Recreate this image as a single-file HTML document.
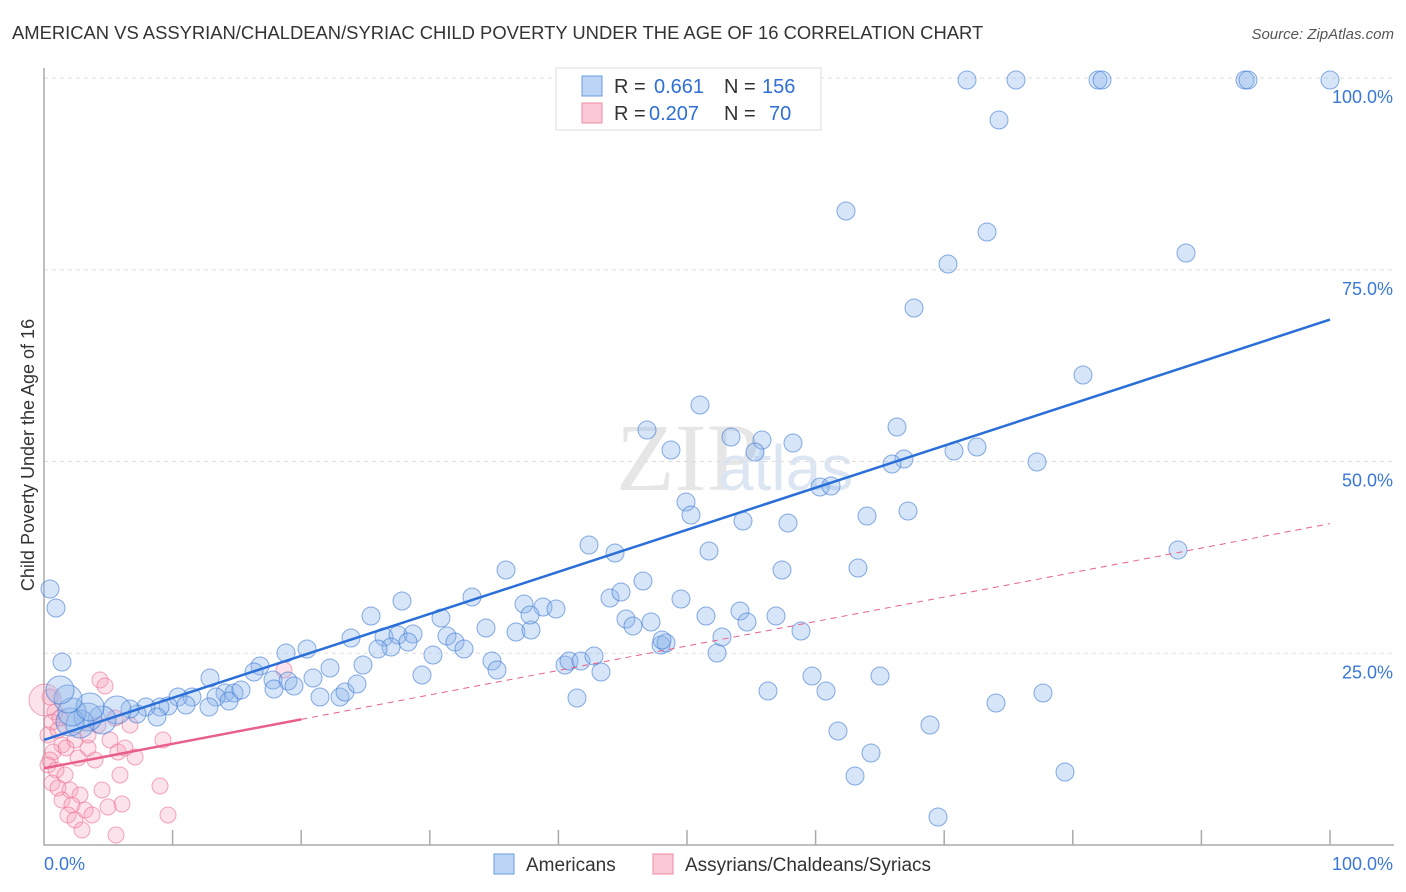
<!DOCTYPE html>
<html><head><meta charset="utf-8"><style>
body{margin:0;background:#fff;font-family:"Liberation Sans",sans-serif;}
#c{position:absolute;left:0;top:0;width:1406px;height:892px;}
</style></head><body>
<svg id="c" width="1406" height="892">
<text x="12" y="39" font-size="18.4" fill="#333">AMERICAN VS ASSYRIAN/CHALDEAN/SYRIAC CHILD POVERTY UNDER THE AGE OF 16 CORRELATION CHART</text>
<text x="1394" y="39" font-size="15" fill="#555" font-style="italic" text-anchor="end">Source: ZipAtlas.com</text>
<text x="760" y="490" font-size="96" fill="#e6e6e6" text-anchor="end" font-family="Liberation Serif,serif">ZIP</text>
<text x="718" y="490" font-size="64" fill="#dce6f3">atlas</text>
<g id="grid"></g><g id="pink"></g><g id="blue"></g><g id="lines"></g>
<text transform="translate(34,455) rotate(-90)" font-size="18" fill="#333" text-anchor="middle">Child Poverty Under the Age of 16</text>
<g>
<rect x="556" y="68" width="265" height="62" fill="#fff" stroke="#ddd"/>
<rect x="582" y="76" width="20" height="20" fill="#bcd4f5" stroke="#6a9ee0"/>
<rect x="582" y="103" width="20" height="20" fill="#fbc8d6" stroke="#ef8aa6"/>
<text x="614" y="93" font-size="20" fill="#333">R =</text>
<text x="654" y="93" font-size="20" fill="#2f6fd6">0.661</text>
<text x="724" y="93" font-size="20" fill="#333">N =</text>
<text x="762" y="93" font-size="20" fill="#2f6fd6">156</text>
<text x="614" y="120" font-size="20" fill="#333">R =</text>
<text x="649" y="120" font-size="20" fill="#2f6fd6">0.207</text>
<text x="724" y="120" font-size="20" fill="#333">N =</text>
<text x="769" y="120" font-size="20" fill="#2f6fd6">70</text>
</g>
<g>
<rect x="494" y="854" width="20" height="20" fill="#bcd4f5" stroke="#6a9ee0"/>
<text x="526" y="871" font-size="19" fill="#333">Americans</text>
<rect x="653" y="854" width="20" height="20" fill="#fbc8d6" stroke="#ef8aa6"/>
<text x="685" y="871" font-size="19" fill="#333">Assyrians/Chaldeans/Syriacs</text>
</g>
</svg>
<script>
const yTicks=[25,50,75,100];
const xTickLabels=["0.0%","100.0%"];
const bluePts=[[967,80],[1016,80],[1098,80],[1102,80],[1245,80],[1248,80],[1330,80],[806,117],[999,120],[846,211],[987,232],[948,264],[1186,253],[914,308],[1083,375],[700,405],[647,430],[671,450],[731,437],[762,440],[755,452],[793,443],[897,427],[904,459],[892,464],[954,451],[977,447],[1037,462],[820,487],[831,486],[686,502],[691,515],[743,521],[788,523],[867,516],[908,511],[589,545],[615,553],[709,551],[782,570],[858,568],[1178,550],[506,570],[472,597],[402,601],[371,616],[441,618],[524,604],[543,607],[556,609],[610,598],[621,592],[643,581],[681,599],[706,616],[740,611],[747,622],[776,616],[801,631],[626,619],[633,626],[651,622],[486,628],[516,632],[531,630],[530,615],[351,638],[384,637],[398,635],[413,634],[408,642],[391,647],[378,649],[447,636],[455,642],[464,649],[422,675],[433,655],[492,661],[497,670],[565,665],[569,661],[581,661],[594,656],[601,672],[577,698],[661,645],[666,643],[662,640],[717,653],[722,637],[307,649],[286,653],[260,666],[254,672],[273,680],[288,681],[274,689],[294,686],[313,678],[320,697],[330,668],[340,697],[345,692],[357,684],[363,665],[210,678],[225,693],[234,693],[241,690],[216,697],[229,701],[209,707],[192,697],[178,697],[186,705],[168,706],[160,707],[146,707],[157,717],[137,714],[130,709],[117,710],[102,720],[88,717],[80,724],[70,722],[72,712],[90,707],[68,699],[60,690],[50,589],[56,608],[62,662],[768,691],[812,676],[826,691],[880,676],[838,731],[871,753],[855,776],[930,725],[996,703],[1043,693],[1065,772],[938,817]]
 .map(p=>[(p[0]-44)/12.86,(845-p[1])/7.67]);
const pinkPts=[[50,697],[55,712],[52,722],[48,735],[58,730],[62,745],[53,752],[50,760],[48,765],[56,770],[65,775],[52,783],[58,788],[70,790],[80,795],[62,800],[72,805],[85,810],[68,815],[75,820],[92,815],[82,830],[100,680],[105,686],[95,760],[88,748],[75,740],[110,740],[118,752],[125,748],[135,757],[130,725],[115,718],[163,740],[160,786],[122,804],[108,807],[116,835],[168,815],[284,670],[120,775],[60,718],[45,700],[98,725],[88,735],[66,748],[78,758],[102,790]]
 .map(p=>[(p[0]-44)/12.86,(845-p[1])/7.67]);
const blueFit=[13.7,68.5];
const pinkFit=[10.0,41.9];
const X=v=>44+v*12.86, Y=v=>845-v*7.67;
const NS="http://www.w3.org/2000/svg";
function mk(tag,parent,attrs){const e=document.createElementNS(NS,tag);for(const k in attrs)e.setAttribute(k,attrs[k]);document.getElementById(parent).appendChild(e);return e;}
yTicks.forEach(t=>{
 const l=mk('line','grid',{x1:44,x2:1394,y1:Y(t),y2:Y(t),stroke:'#ddd','stroke-dasharray':'4,4'});
 
 
 const tx=mk('text','grid',{x:1393,y:Y(t)+25,'font-size':18,fill:'#3a78d8','text-anchor':'end'});
 tx.textContent=t.toFixed(1)+'%';
 
 
});
const ax=mk('path','grid',{d:'M44,68V845H1394',fill:'none',stroke:'#aaa','stroke-width':1.5});


for(let i=1;i<=10;i++){const t=mk('line','grid',{x1:X(i*10),x2:X(i*10),y1:830,y2:845,stroke:'#aaa','stroke-width':1.5});
 
 }
const xl0=mk('text','grid',{x:44,y:870,'font-size':18,fill:'#3a78d8'});xl0.textContent=xTickLabels[0];


const xl1=mk('text','grid',{x:1393,y:870,'font-size':18,fill:'#3a78d8','text-anchor':'end'});xl1.textContent=xTickLabels[1];


pinkPts.forEach((p,i)=>{const c=mk('circle','pink',{cx:X(p[0]),cy:Y(p[1]),r:i==42?16:8,fill:'rgba(246,160,186,0.3)',stroke:'rgba(236,110,145,0.6)'});
 
 });
bluePts.forEach((p,i)=>{const big=p[0]<6&&p[1]>15&&p[1]<22;const c=mk('circle','blue',{cx:X(p[0]),cy:Y(p[1]),r:big?14:(i==147?11:9),fill:'rgba(140,180,235,0.35)',stroke:'rgba(60,120,210,0.6)'});
 
 });
const bl=mk('line','lines',{x1:X(0),y1:Y(blueFit[0]),x2:X(100),y2:Y(blueFit[1]),stroke:'#2a6fd8','stroke-width':2.5});


const pv=v=>pinkFit[0]+(pinkFit[1]-pinkFit[0])*v/100;
const pl=mk('line','lines',{x1:X(0),y1:Y(pv(0)),x2:X(20),y2:Y(pv(20)),stroke:'#e8608a','stroke-width':2.5});


const pd=mk('line','lines',{x1:X(20),y1:Y(pv(20)),x2:X(100),y2:Y(pv(100)),stroke:'#e8608a','stroke-width':1,'stroke-dasharray':'6,5'});


</script>
</body></html>
